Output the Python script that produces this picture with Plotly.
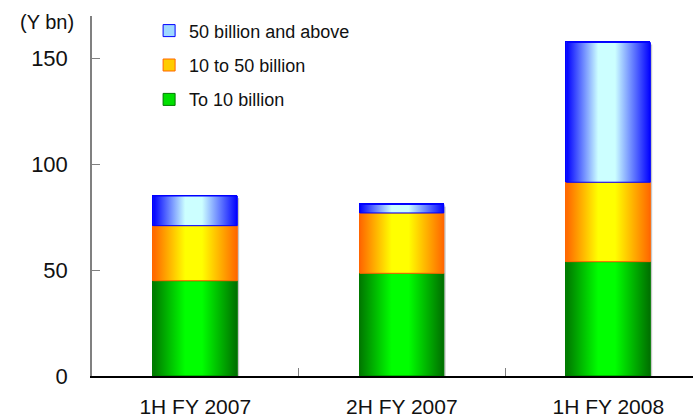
import plotly.graph_objects as go

# Outstanding balance by deal size (Y bn)
periods = ["1H FY 2007", "2H FY 2007", "1H FY 2008"]
to_10bn = [45, 48.5, 54]
bn_10_to_50 = [26, 28.5, 37.5]
bn_50_plus = [14, 4, 66]
series_names = ["To 10 billion", "10 to 50 billion", "50 billion and above"]
y_tick_vals = [0, 50, 100, 150]

FONT = "Liberation Sans, Arial, sans-serif"
BAR_WIDTH = 0.407
HALF = BAR_WIDTH / 2

# (edge colour, mid colour, horizontal cylinder-style gradient)
styles = [
    ("#007a00", "#00e000",
     [[0, "#007800"], [0.38, "#00ff00"], [0.58, "#00ff00"], [1, "#006e00"]]),
    ("#ff6600", "#ffcc00",
     [[0, "#ff6600"], [0.38, "#ffff00"], [0.58, "#ffff00"], [1, "#ff6600"]]),
    ("#0000ff", "#9fd8ff",
     [[0, "#0000ff"], [0.38, "#ccffff"], [0.58, "#ccffff"], [1, "#0000ff"]]),
]
series_values = [to_10bn, bn_10_to_50, bn_50_plus]
legend_ranks = [3, 2, 1]

fig = go.Figure()

# Stacked bars (carry the legend); gradient faces are laid over them below
for name, vals, rank, (edge, mid, _) in zip(series_names, series_values, legend_ranks, styles):
    fig.add_trace(go.Bar(
        x=list(range(len(periods))), y=vals, name=name, legendgroup=name,
        legendrank=rank, width=BAR_WIDTH,
        marker=dict(color=mid, line=dict(color=edge, width=1)),
        hoverinfo="skip",
    ))

totals = [sum(v) for v in zip(*series_values)]

# Soft grey shadow along the right side of each stack
for i, tot in enumerate(totals):
    x0, x1 = i + HALF, i + HALF + 0.009
    fig.add_trace(go.Scatter(
        x=[x0, x1, x1, x0, x0], y=[0, 0, tot - 1, tot - 1, 0],
        fill="toself", fillcolor="#c8c8c8", mode="lines",
        line=dict(width=0, color="#c8c8c8"), showlegend=False, hoverinfo="skip",
    ))

# Gradient-filled faces for each segment
bases = [0] * len(periods)
for name, vals, (edge, mid, scale) in zip(series_names, series_values, styles):
    for i, v in enumerate(vals):
        b = bases[i]
        x0, x1 = i - HALF, i + HALF
        fig.add_trace(go.Scatter(
            x=[x0, x1, x1, x0, x0], y=[b, b, b + v, b + v, b],
            fill="toself", fillgradient=dict(type="horizontal", colorscale=scale),
            mode="lines", line=dict(color=edge, width=1),
            legendgroup=name, showlegend=False, hoverinfo="skip",
        ))
        bases[i] = b + v

fig.add_annotation(
    text="(Y bn)", xref="paper", yref="paper", x=-0.027, y=0.983,
    xanchor="right", yanchor="middle", showarrow=False,
    font=dict(family=FONT, size=20, color="#111111"),
)

fig.update_layout(
    width=693, height=420,
    margin=dict(l=92, r=0, t=16, b=44),
    paper_bgcolor="white", plot_bgcolor="white",
    barmode="stack", bargap=0,
    font=dict(family=FONT, color="#111111"),
    showlegend=True,
    legend=dict(
        x=0.095, y=1.01, xanchor="left", yanchor="top",
        traceorder="grouped", tracegroupgap=8,
        font=dict(family=FONT, size=18, color="#111111"),
        bgcolor="rgba(0,0,0,0)", itemwidth=30,
    ),
    xaxis=dict(
        range=[-0.5, 2.41], showgrid=False, zeroline=False, automargin=False,
        showline=True, linecolor="#000000", linewidth=1.5,
        tickmode="array", tickvals=list(range(len(periods))), ticktext=periods,
        ticks="", ticklabelstandoff=11,
        tickfont=dict(family=FONT, size=21, color="#111111"),
        minor=dict(tickmode="array", tickvals=[0.5, 1.5, 2.5], ticks="inside",
                   ticklen=8, tickcolor="#808080", tickwidth=1, showgrid=False),
    ),
    yaxis=dict(
        range=[0, 170], showgrid=False, zeroline=False, automargin=False,
        showline=True, linecolor="#808080", linewidth=1.5,
        tickmode="array", tickvals=y_tick_vals,
        ticks="inside", ticklen=8, tickcolor="#808080", tickwidth=1,
        ticklabelstandoff=18,
        tickfont=dict(family=FONT, size=22, color="#111111"),
    ),
)

fig.write_html("out.html")
